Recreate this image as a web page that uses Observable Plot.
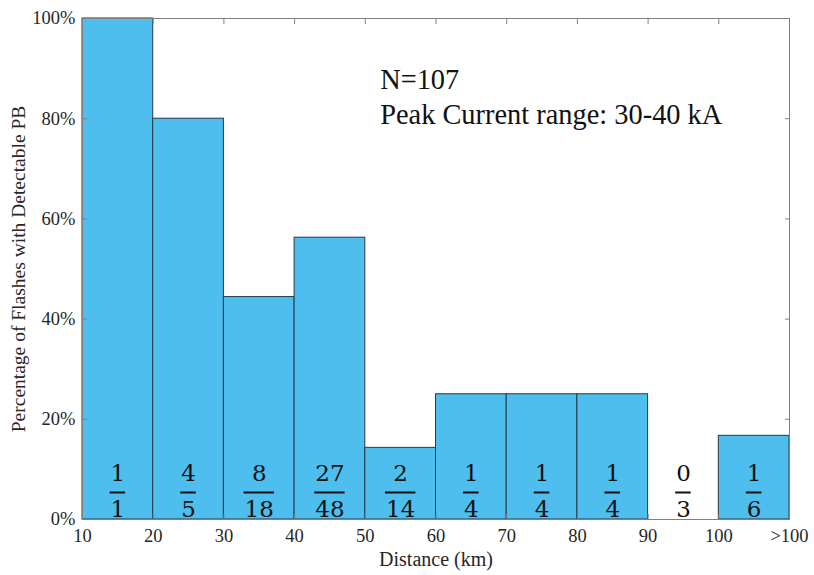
<!DOCTYPE html>
<html>
<head>
<meta charset="utf-8">
<script src="https://cdn.jsdelivr.net/npm/d3@7"></script>
<script src="https://cdn.jsdelivr.net/npm/@observablehq/plot@0.6"></script>
<style>
  html, body { margin: 0; padding: 0; background: #fff; }
  #chart { width: 814px; height: 575px; }
</style>
</head>
<body>
<div id="chart"></div>
<script>
// ---- data ----
const binStart = [10, 20, 30, 40, 50, 60, 70, 80, 90, 100];
const binEnd   = [20, 30, 40, 50, 60, 70, 80, 90, 100, 110];
const numerators   = [1, 4, 8, 27, 2, 1, 1, 1, 0, 1];
const denominators = [1, 5, 18, 48, 14, 4, 4, 4, 3, 6];
const percentages  = [100, 80, 44.4, 56.25, 14.3, 25, 25, 25, 0, 16.7];
const xTickValues = [10, 20, 30, 40, 50, 60, 70, 80, 90, 100, 110];
const xTickLabels = ["10", "20", "30", "40", "50", "60", "70", "80", "90", "100", ">100"];
const yTickValues = [0, 20, 40, 60, 80, 100];
const yTickLabels = ["0%", "20%", "40%", "60%", "80%", "100%"];
const annotationLines = ["N=107", "Peak Current range: 30-40 kA"];
const annotationX = [52.1, 52.1];
const annotationY = [86.0, 79.0];
const xLabel = "Distance (km)";
const yLabel = "Percentage of Flashes with Detectable PB";

const bins = binStart.map((s, i) => ({
  x1: s, x2: binEnd[i], mid: (s + binEnd[i]) / 2,
  pct: percentages[i], num: numerators[i], den: denominators[i],
  digits: Math.max(String(numerators[i]).length, String(denominators[i]).length)
}));
const notes = annotationLines.map((t, i) => ({t, x: annotationX[i], y: annotationY[i]}));

const serif = "'Liberation Serif', 'Times New Roman', serif";
const mathFont = "'DejaVu Serif', serif";
const axisColor = "#262626";

const chart = Plot.plot({
  width: 814,
  height: 575,
  marginLeft: 82,
  marginRight: 25,
  marginTop: 18,
  marginBottom: 56,
  style: { fontFamily: serif, fontSize: "18px", color: axisColor, background: "#fff" },
  x: { domain: [10, 110] },
  y: { domain: [0, 100] },
  marks: [
    Plot.rectY(bins, { x1: "x1", x2: "x2", y1: 0, y2: "pct", fill: "#4DBEEE", stroke: "#27394a", strokeWidth: 1 }),
    Plot.frame({ stroke: "#808080", strokeWidth: 1 }),
    Plot.axisX({ anchor: "bottom", ticks: xTickValues, tickSize: -5, tickPadding: 14,
      tickFormat: d => xTickLabels[xTickValues.indexOf(d)], label: null, stroke: "#808080", fill: axisColor, fontSize: 18.5 }),
    Plot.axisX({ anchor: "top", ticks: xTickValues, tickSize: -5, tickFormat: () => "", label: null, stroke: "#808080" }),
    Plot.axisY({ anchor: "left", ticks: yTickValues, tickSize: -5, tickPadding: 12,
      tickFormat: d => yTickLabels[yTickValues.indexOf(d)], label: null, stroke: "#808080", fill: axisColor, fontSize: 18.5 }),
    Plot.axisY({ anchor: "right", ticks: yTickValues, tickSize: -5, tickFormat: () => "", label: null, stroke: "#808080" }),
    // fractions
    Plot.text(bins, { x: "mid", frameAnchor: "bottom", text: d => String(d.num), dy: -46, fontFamily: mathFont, fontSize: 23, fill: "#111", lineAnchor: "middle" }),
    Plot.ruleY(bins, { x1: d => d.mid - (d.digits === 1 ? 1.1 : 2.15), x2: d => d.mid + (d.digits === 1 ? 1.1 : 2.15), y: 0, dy: -27, stroke: "#111", strokeWidth: 2 }),
    Plot.text(bins, { x: "mid", frameAnchor: "bottom", text: d => String(d.den), dy: -10, fontFamily: mathFont, fontSize: 23, fill: "#111", lineAnchor: "middle" }),
    // annotation
    Plot.text(notes, { x: "x", y: "y", text: "t", textAnchor: "start", lineAnchor: "bottom", fontFamily: serif, fontSize: 28.4, fill: "#111" }),
    // axis titles
    Plot.text([xLabel], { frameAnchor: "bottom", text: d => d, dy: 40, textAnchor: "middle", lineAnchor: "middle", fontFamily: serif, fontSize: 20, fill: axisColor }),
    Plot.text([yLabel], { frameAnchor: "left", text: d => d, dx: -64, rotate: -90, textAnchor: "middle", lineAnchor: "middle", fontFamily: serif, fontSize: 19.5, fill: axisColor })
  ]
});
document.getElementById("chart").appendChild(chart);
</script>
</body>
</html>
